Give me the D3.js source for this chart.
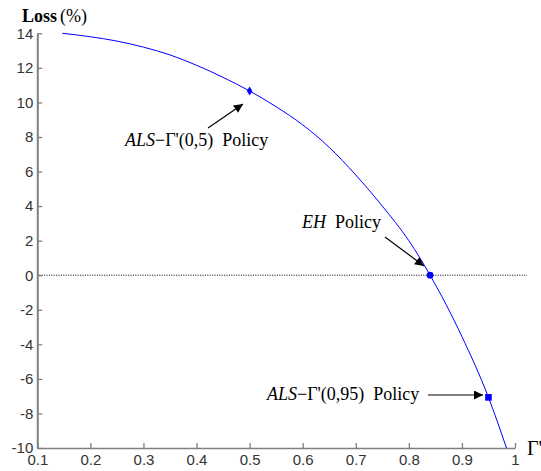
<!DOCTYPE html>
<html>
<head>
<meta charset="utf-8">
<script src="https://cdn.jsdelivr.net/npm/d3@7"></script>
<style>
  body { margin: 0; background: #fff; }
  svg { display: block; }
</style>
</head>
<body>
<svg id="chart" width="541" height="471"></svg>
<script>
// data
const gammaValues = [0.147, 0.2, 0.25, 0.3, 0.35, 0.4, 0.45, 0.5, 0.55, 0.6, 0.65, 0.7, 0.75, 0.8, 0.84, 0.9, 0.95, 0.984];
const lossValues = [14.0, 13.8, 13.55, 13.2, 12.75, 12.15, 11.45, 10.66, 9.75, 8.7, 7.4, 5.8, 4.0, 2.0, 0.0, -3.55, -7.07, -10.0];

const policyNames = ["ALS(0,5)", "EH", "ALS(0,95)"];
const policyGamma = [0.5, 0.84, 0.95];
const policyLoss = [10.66, 0.0, -7.07];
const policySymbol = ["diamond", "circle", "square"];

const xTicks = [0.1, 0.2, 0.3, 0.4, 0.5, 0.6, 0.7, 0.8, 0.9, 1];
const yTicks = [-10, -8, -6, -4, -2, 0, 2, 4, 6, 8, 10, 12, 14];

const curve = gammaValues.map((g, i) => ({ g: g, loss: lossValues[i] }));

//////////////////////////
// Chart specifications //
//////////////////////////
const margin = { top: 33.3, right: 26, bottom: 23, left: 37.3 };
const W = 541, H = 471;

const x = d3.scaleLinear().domain([0.1, 1]).range([margin.left, W - margin.right]);
const y = d3.scaleLinear().domain([-10, 14]).range([H - margin.bottom, margin.top]);

const svg = d3.select("#chart");
const axisColor = "#808080";
const tickFont = "'Liberation Sans', Arial, sans-serif";
const serif = "'Liberation Serif', 'Times New Roman', serif";

// zero reference line (dotted)
svg.append("line")
  .attr("x1", x(0.1) + 2).attr("x2", 527)
  .attr("y1", y(0)).attr("y2", y(0))
  .attr("stroke", "#000")
  .attr("stroke-width", 1)
  .attr("stroke-dasharray", "1,1.4");

// x axis
const xAxis = svg.append("g")
  .attr("transform", `translate(0,${y(-10)})`)
  .call(d3.axisBottom(x).tickValues(xTicks).tickSizeInner(-5).tickSizeOuter(0)
    .tickFormat(d => d === 1 ? "1" : d3.format(".1f")(d)));
xAxis.select(".domain").attr("stroke", axisColor).attr("stroke-width", 1.6);
xAxis.selectAll(".tick line").attr("stroke", axisColor).attr("stroke-width", 1.3);
xAxis.selectAll(".tick text")
  .attr("font-family", tickFont).attr("font-size", 15).attr("fill", "#333")
  .attr("y", 6).attr("dy", "0.71em");

// y axis (plain hyphen for negatives, like the original)
const yAxis = svg.append("g")
  .attr("transform", `translate(${x(0.1)},0)`)
  .call(d3.axisLeft(y).tickValues(yTicks).tickSizeInner(-5).tickSizeOuter(0)
    .tickFormat(d => String(d)));
yAxis.select(".domain").attr("stroke", axisColor).attr("stroke-width", 2);
yAxis.selectAll(".tick line").attr("stroke", axisColor).attr("stroke-width", 1.3);
yAxis.selectAll(".tick text")
  .attr("font-family", tickFont).attr("font-size", 15).attr("fill", "#333")
  .attr("x", -4);

// axis titles
const yTitle = svg.append("text")
  .attr("x", 22).attr("y", 22)
  .attr("font-family", serif).attr("font-size", 18);
yTitle.append("tspan").attr("font-weight", "bold").text("Loss");
yTitle.append("tspan").attr("dx", 3).text("(%)");

svg.append("text")
  .attr("x", 527).attr("y", 455)
  .attr("font-family", serif).attr("font-size", 20)
  .text("Γ'");

// the loss curve
const line = d3.line()
  .x(d => x(d.g))
  .y(d => y(d.loss))
  .curve(d3.curveMonotoneX);

svg.append("path")
  .datum(curve)
  .attr("d", line)
  .attr("fill", "none")
  .attr("stroke", "#0000ff")
  .attr("stroke-width", 1);

// policy markers
const symbols = { diamond: null, circle: d3.symbolCircle, square: d3.symbolSquare };
policyNames.forEach((name, i) => {
  const px = x(policyGamma[i]), py = y(policyLoss[i]);
  if (policySymbol[i] === "diamond") {
    svg.append("path")
      .attr("d", `M${px},${py - 4.5}L${px + 2.8},${py}L${px},${py + 4.5}L${px - 2.8},${py}Z`)
      .attr("fill", "#0000ff");
  } else {
    svg.append("path")
      .attr("transform", `translate(${px},${py})`)
      .attr("d", d3.symbol().type(symbols[policySymbol[i]]).size(policySymbol[i] === "circle" ? 36 : 44)())
      .attr("fill", "#0000ff");
  }
});

// arrowhead
svg.append("defs").append("marker")
  .attr("id", "arrow")
  .attr("viewBox", "0 0 10 10")
  .attr("refX", 10).attr("refY", 5)
  .attr("markerUnits", "userSpaceOnUse")
  .attr("markerWidth", 13).attr("markerHeight", 9)
  .attr("orient", "auto")
  .append("path")
  .attr("d", "M0,0L10,5L0,10Z")
  .attr("fill", "#000");

function arrow(x1, y1, x2, y2) {
  svg.append("line")
    .attr("x1", x1).attr("y1", y1).attr("x2", x2).attr("y2", y2)
    .attr("stroke", "#000").attr("stroke-width", 1.2)
    .attr("marker-end", "url(#arrow)");
}

function alsLabel(lx, ly, param) {
  const t = svg.append("text")
    .attr("x", lx).attr("y", ly)
    .attr("font-family", serif).attr("font-size", 18).attr("fill", "#000");
  t.append("tspan").attr("font-style", "italic").text("ALS");
  t.append("tspan").text("\u2212\u0393'(" + param + ")");
  t.append("tspan").attr("dx", 9).text("Policy");
}

// annotations
alsLabel(125, 146, "0,5");
arrow(208, 128, 243, 104);

const eh = svg.append("text")
  .attr("x", 302).attr("y", 228)
  .attr("font-family", serif).attr("font-size", 18);
eh.append("tspan").attr("font-style", "italic").text("EH");
eh.append("tspan").attr("dx", 9).text("Policy");
arrow(385, 237, 424, 266);

alsLabel(267, 400, "0,95");
arrow(428, 395, 483, 395);
</script>
</body>
</html>
